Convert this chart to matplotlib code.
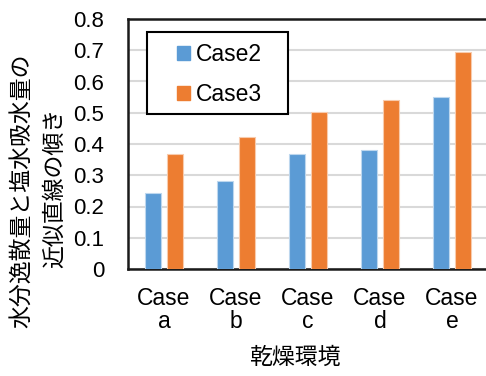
import matplotlib
matplotlib.use("Agg")
import matplotlib.pyplot as plt
import numpy as np
from matplotlib.patches import Patch, Rectangle

# chart data
categories = ["Case\na", "Case\nb", "Case\nc", "Case\nd", "Case\ne"]
case2 = [0.242, 0.283, 0.367, 0.382, 0.549]
case3 = [0.368, 0.421, 0.502, 0.542, 0.695]
series_names = ["Case2", "Case3"]

plt.rcParams['font.family'] = ['Liberation Sans', 'Noto Sans CJK JP']
jp = ['Noto Sans CJK JP']
fs = 16.5

blue = "#5B9BD5"
orange = "#ED7D31"

W, H = 486, 376
fig = plt.figure(figsize=(W / 100, H / 100), dpi=100)
ax = fig.add_axes([128 / W, 107 / H, 360 / W, 250 / H])

x = np.arange(len(categories))
w = 0.222
off = 0.146
ax.bar(x - off, case2, width=w, color=blue, edgecolor="#BDD7EE", linewidth=0.8, zorder=3)
ax.bar(x + off, case3, width=w, color=orange, edgecolor="#F8CBAD", linewidth=0.8, zorder=3)

ax.set_xlim(-0.5, len(categories) - 0.5)
ax.set_ylim(0, 0.8)
ax.set_yticks(np.arange(0, 0.81, 0.1))
ax.set_yticklabels(["0"] + [f"{v:.1f}" for v in np.arange(0.1, 0.81, 0.1)])
ax.set_xticks(x)
ax.set_xticklabels(categories, linespacing=1.0)
ax.tick_params(axis="both", length=0, labelsize=fs)
ax.tick_params(axis="x", pad=13)
ax.tick_params(axis="y", pad=17, labelsize=16)

ax.yaxis.grid(True, color="#D9D9D9", linewidth=1.5, zorder=0)
ax.set_axisbelow(True)
for s in ["left", "bottom", "top"]:
    ax.spines[s].set_color("#1a1a1a")
    ax.spines[s].set_linewidth(1.8)
ax.spines["right"].set_visible(False)

# axis titles
fig.text(295 / W, 1 - 357 / H, "乾燥環境", family=jp, fontsize=fs, ha="center", va="center")
fig.text(22 / W, 1 - 191 / H, "水分逸散量と塩水吸水量の", family=jp, fontsize=16.5,
         rotation=90, ha="center", va="center")
fig.text(54 / W, 1 - 188 / H, "近似直線の傾き", family=jp, fontsize=16.5,
         rotation=90, ha="center", va="center")

# legend: frameless entries plus a drawn box
handles = [Patch(color=blue), Patch(color=orange)]
leg = ax.legend(handles, series_names, loc="upper left",
                bbox_to_anchor=((179 - 128) / 360 - 0.005, 1 - (48 - 19) / 250 + 0.02),
                fontsize=fs, frameon=False, handlelength=0.55, handleheight=0.55,
                handletextpad=0.25, labelspacing=0.75, borderpad=0, borderaxespad=0)
leg.set_zorder(5)
box = Rectangle(((147 - 128) / 360, 1 - (114 - 19) / 250), 141 / 360, 82 / 250,
                transform=ax.transAxes, facecolor="white", edgecolor="black",
                linewidth=1.5, zorder=4)
ax.add_patch(box)

plt.savefig("out.png", dpi=100)
